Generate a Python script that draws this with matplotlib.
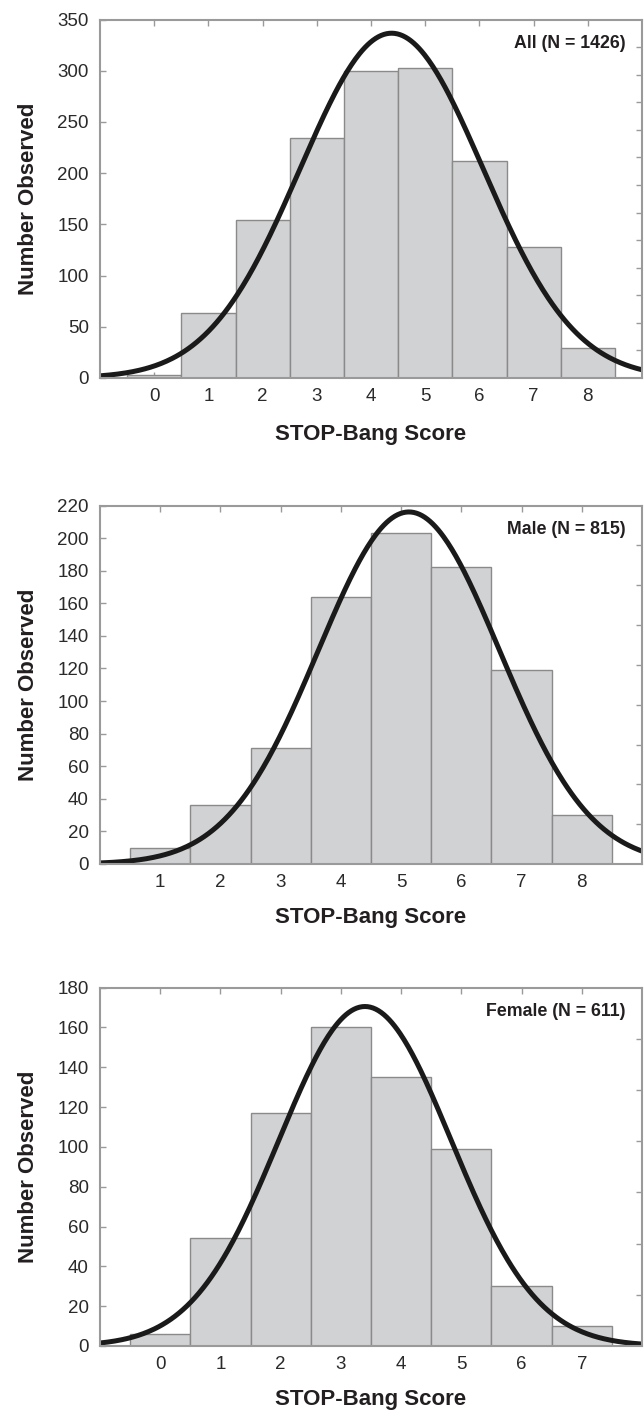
import numpy as np
import matplotlib
matplotlib.use("Agg")
import matplotlib.pyplot as plt
from matplotlib import font_manager

# ---------------- data ----------------
panel_labels = ["All (N = 1426)", "Male (N = 815)", "Female (N = 611)"]

all_scores = [0, 1, 2, 3, 4, 5, 6, 7, 8]
all_counts = [3, 63, 154, 234, 300, 303, 212, 128, 29]

male_scores = [1, 2, 3, 4, 5, 6, 7, 8]
male_counts = [10, 36, 71, 164, 203, 182, 119, 30]

female_scores = [0, 1, 2, 3, 4, 5, 6, 7]
female_counts = [6, 54, 117, 160, 135, 99, 30, 10]

# fitted normal curve parameters
fit_means = [4.38, 5.13, 3.40]
fit_sds = [1.69, 1.505, 1.43]

x_ticks = [list(range(0, 9)), list(range(1, 9)), list(range(0, 8))]
x_limits = [(-1, 9), (0, 9), (-1, 8)]
y_limits = [350, 220, 180]
y_steps = [50, 20, 20]
right_tick_counts = [13, 9, 7]

x_label = "STOP-Bang Score"
y_label = "Number Observed"

# ---------------- fonts ----------------
avail = {f.name for f in font_manager.fontManager.ttflist}
narrow = "Liberation Sans Narrow" if "Liberation Sans Narrow" in avail else "Liberation Sans"
plt.rcParams["font.family"] = [narrow, "DejaVu Sans"]

text_col = "#231f20"
spine_col = "#9a9a9a"
bar_face = "#d1d2d4"
bar_edge = "#8a8a8a"

W, H = 644, 1412
fig = plt.figure(figsize=(W / 100, H / 100), dpi=100)

ax_left = 100 / W
ax_w = 542 / W
ax_h = 358.5 / H
bottoms_px = [378, 864, 1346]
xlabel_pads = [14, 12, 12]

datasets = [(all_scores, all_counts), (male_scores, male_counts), (female_scores, female_counts)]

for i, (scores, counts) in enumerate(datasets):
    ax = fig.add_axes([ax_left, 1 - bottoms_px[i] / H, ax_w, ax_h])
    ax.bar(scores, counts, width=1.0, color=bar_face, edgecolor=bar_edge,
           linewidth=1.0, zorder=2)
    n_total = sum(counts)
    xs = np.linspace(x_limits[i][0], x_limits[i][1], 400)
    mu, sd = fit_means[i], fit_sds[i]
    ys = n_total / (sd * np.sqrt(2 * np.pi)) * np.exp(-0.5 * ((xs - mu) / sd) ** 2)
    ax.plot(xs, ys, color="#1a1a1a", linewidth=3.6, zorder=3, solid_capstyle="butt")

    ax.set_xlim(*x_limits[i])
    ax.set_ylim(0, y_limits[i])
    ax.set_xticks(x_ticks[i])
    ax.set_yticks(np.arange(0, y_limits[i] + 1, y_steps[i]))
    ax.tick_params(axis="both", direction="in", length=4, width=1.0, color=spine_col,
                   labelsize=13.5, labelcolor="#2a2a2a", pad=6)
    ax.tick_params(axis="x", top=True, pad=7)
    ax.tick_params(axis="y", pad=8)
    for sp in ax.spines.values():
        sp.set_color(spine_col)
        sp.set_linewidth(1.5)
        sp.set_zorder(4)

    ax.set_xlabel(x_label, fontsize=16, fontweight="bold", color=text_col,
                  labelpad=xlabel_pads[i])
    ax.set_ylabel(y_label, fontsize=16, fontweight="bold", color=text_col, labelpad=13)

    ax.text(0.97, 1 - 24 / 358.5, panel_labels[i], transform=ax.transAxes,
            ha="right", va="center", fontsize=12.8, fontweight="bold", color=text_col, zorder=5)

    ax2 = ax.twinx()
    ax2.set_ylim(0, right_tick_counts[i])
    ax2.set_yticks(np.arange(1, right_tick_counts[i]))
    ax2.tick_params(axis="y", direction="in", length=4, width=1.0, color=spine_col,
                    labelright=False)
    for sp in ax2.spines.values():
        sp.set_visible(False)

fig.savefig("out.png", dpi=100)
